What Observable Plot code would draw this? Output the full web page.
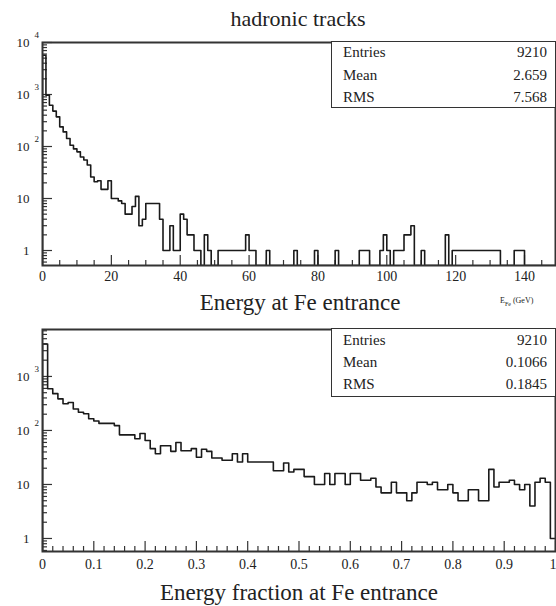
<!DOCTYPE html>
<html><head><meta charset="utf-8">
<script src="https://cdn.jsdelivr.net/npm/d3@7"></script>
<script src="https://cdn.jsdelivr.net/npm/@observablehq/plot@0.6"></script>
<style>
body{margin:0;background:#fff;}
#root{position:relative;width:556px;height:606px;font-family:"Liberation Serif","Times New Roman",serif;color:#222;overflow:hidden}
.t{position:absolute;white-space:nowrap;line-height:1}
#root svg{position:absolute;left:0}
.box{position:absolute;border:1.5px solid #333;box-sizing:border-box;background:#fff}
</style></head><body><div id="root"></div>
<script>
// ---- data ----
const title = "hadronic tracks";
const energyTitle = "Energy at Fe entrance";
const fractionTitle = "Energy fraction at Fe entrance";
// 150 bins of 1 GeV, 0..150
const energyCounts = [
 5700,970,620,480,372,239,191,143,106,90,
 79,63,55,44,26,21,22,15,15,22,
 10,10,9,8,5,5,7,11,3,4,
 8,8,8,8,4,1,1,3,1,1,
 5,4,2,2,1,1,0,2,1,0,
 0,1,1,1,1,1,1,1,1,2,
 1,1,0,0,0,1,0,0,0,0,
 0,0,0,1,0,0,0,0,0,1,
 0,0,0,0,0,1,0,0,0,0,
 0,0,1,1,1,0,0,0,1,2,
 1,0,1,1,1,2,2,3,0,0,
 1,0,0,0,0,0,0,2,0,1,
 1,1,1,1,1,1,1,1,1,1,
 1,1,1,0,0,0,0,1,1,1,
 0,0,0,0,0,0,0,0,0,0];
// 100 bins of 0.01, 0..1
const fractionCounts = [
 4000,590,480,385,312,330,250,218,204,165,
 150,135,135,135,123,83,83,83,70,88,
 65,46,37,52,52,41,60,42,42,46,
 32,45,41,31,31,28,28,37,26,37,
 26,26,26,26,26,18,18,25,17,19,
 19,14,14,10,10,16,10,16,16,10,
 16,16,12,12,13,9,7,7,11,7,
 7,5,7,11,11,10,11,8,8,10,
 7,5,5,8,8,5,5,19,9,11,
 11,12,10,8,10,4,11,13,11,1];
const energyStatLabels = ["Entries","Mean","RMS"];
const energyStatValues = ["9210","2.659","7.568"];
const fractionStatLabels = ["Entries","Mean","RMS"];
const fractionStatValues = ["9210","0.1066","0.1845"];
const energyXTicks = [0,20,40,60,80,100,120,140];
const energyXTickLabels = ["0","20","40","60","80","100","120","140"];
const fractionXTicks = [0,0.1,0.2,0.3,0.4,0.5,0.6,0.7,0.8,0.9,1];
const fractionXTickLabels = ["0","0.1","0.2","0.3","0.4","0.5","0.6","0.7","0.8","0.9","1"];
const energyYTicks = [1,10,100,1000,10000];
const fractionYTicks = [1,10,100,1000];
const yTickBase = ["1","10","10","10","10"];
const yTickExp = ["","","2","3","4"];

// ---- helpers ----
const root = document.getElementById("root");
const FONT = "Liberation Serif";
function addText(html, x, baseline, size, anchor) {
  const d = document.createElement("div");
  d.className = "t";
  d.innerHTML = html;
  d.style.fontSize = size + "px";
  d.style.left = x + "px";
  d.style.top = (baseline - 0.84 * size) + "px";
  if (anchor === "middle") d.style.transform = "translateX(-50%)";
  if (anchor === "end") d.style.transform = "translateX(-100%)";
  root.appendChild(d);
}
function stepPoints(counts, x0, w, floor) {
  const pts = [{x: x0, y: floor}];
  counts.forEach((c, i) => pts.push({x: x0 + i * w, y: Math.max(c, floor)}));
  pts.push({x: x0 + counts.length * w, y: Math.max(counts[counts.length - 1], floor)});
  return pts;
}
function logMinor(lo, hi) {
  const out = [];
  for (let e = Math.floor(Math.log10(lo)); e <= Math.ceil(Math.log10(hi)); e++)
    for (let m = 2; m <= 9; m++) { const v = m * 10 ** e; if (v >= lo && v <= hi) out.push(v); }
  return out;
}
function linMinor(lo, hi, step, major) {
  const out = [];
  for (let k = 0; lo + k * step <= hi + 1e-9; k++) {
    const v = +(lo + k * step).toFixed(6);
    if (!major.some(m => Math.abs(m - v) < 1e-9)) out.push(v);
  }
  return out;
}
function panel({counts, x0, w, xDomain, yDomain, xTicks, xLabels, xMinorStep, yTicks, top, height, mTop, mBottom, labelDy}) {
  const W = 556, mL = 42, mR = 1;
  const fw = W - mL - mR, fh = height - mTop - mBottom;
  const xMinor = linMinor(xDomain[0], xDomain[1], xMinorStep, xTicks);
  const yMinor = logMinor(yDomain[0], yDomain[1]);
  const tickStyle = {stroke: "#333", strokeWidth: 1.2};
  // labels that would be cut at the right edge are end-anchored
  const inner = xTicks.filter(t => t < xDomain[1]);
  const edge = xTicks.filter(t => t >= xDomain[1]);
  const lab = d => xLabels[xTicks.indexOf(d)];
  const svg = Plot.plot({
    width: W, height, marginLeft: mL, marginRight: mR, marginTop: mTop, marginBottom: mBottom,
    x: {domain: xDomain, axis: null},
    y: {type: "log", domain: yDomain, axis: null},
    style: {fontFamily: FONT, background: "transparent", color: "#222"},
    marks: [
      Plot.ruleX(xMinor, {insetTop: fh - 5, ...tickStyle}),
      Plot.ruleX(xTicks, {insetTop: fh - 10, ...tickStyle}),
      Plot.ruleY(yMinor, {insetRight: fw - 5, ...tickStyle}),
      Plot.ruleY(yTicks, {insetRight: fw - 10, ...tickStyle}),
      Plot.line(stepPoints(counts, x0, w, yDomain[0]), {x: "x", y: "y", curve: "step-after", stroke: "#1a1a1a", strokeWidth: 1.6, clip: true}),
      Plot.text(inner, {x: d => d, frameAnchor: "bottom", dy: labelDy, lineAnchor: "top", text: lab, fontSize: 14, fontFamily: FONT, fill: "#222"}),
      Plot.text(edge, {x: d => d, frameAnchor: "bottom", dy: labelDy, dx: 1, lineAnchor: "top", textAnchor: "end", text: lab, fontSize: 14, fontFamily: FONT, fill: "#222"}),
      Plot.text(yTicks, {y: d => d, frameAnchor: "left", dx: -13, textAnchor: "end", text: (d, i) => yTickBase[i], fontSize: 13, fontFamily: FONT, fill: "#222"}),
      Plot.text(yTicks, {y: d => d, frameAnchor: "left", dx: -8, dy: -7, textAnchor: "start", text: (d, i) => yTickExp[i], fontSize: 9, fontFamily: FONT, fill: "#222"}),
      Plot.frame({stroke: "#333", strokeWidth: 2})
    ]
  });
  svg.style.top = top + "px";
  root.appendChild(svg);
}
function statBox(labels, values, top, bottom, baselines) {
  const b = document.createElement("div");
  b.className = "box";
  b.style.left = "331px"; b.style.top = top + "px";
  b.style.width = (556 - 331) + "px"; b.style.height = (bottom - top) + "px";
  root.appendChild(b);
  labels.forEach((l, i) => {
    addText(l, 343, baselines[i], 15, "start");
    addText(values[i], 547, baselines[i], 15, "end");
  });
}

// ---- top panel: energy ----
panel({counts: energyCounts, x0: 0, w: 1, xDomain: [0, 149], yDomain: [0.515, 10000],
  xTicks: energyXTicks, xLabels: energyXTickLabels, xMinorStep: 5, yTicks: energyYTicks,
  top: 0, height: 300, mTop: 42, mBottom: 35, labelDy: 6});
// ---- bottom panel: fraction ----
panel({counts: fractionCounts, x0: 0, w: 0.01, xDomain: [0, 1], yDomain: [0.574, 7400],
  xTicks: fractionXTicks, xLabels: fractionXTickLabels, xMinorStep: 0.02, yTicks: fractionYTicks,
  top: 300, height: 306, mTop: 29, mBottom: 55, labelDy: 8});

addText(title, 298, 26, 22, "middle");
addText(energyTitle, 300, 310, 23, "middle");
addText(fractionTitle, 299, 600, 23, "middle");
addText('E<sub style="font-size:6px">Fe</sub> (GeV)', 500, 304, 8, "start");
statBox(energyStatLabels, energyStatValues, 41, 108, [58, 81, 103]);
statBox(fractionStatLabels, fractionStatValues, 328, 397, [346, 368, 390]);
</script></body></html>
